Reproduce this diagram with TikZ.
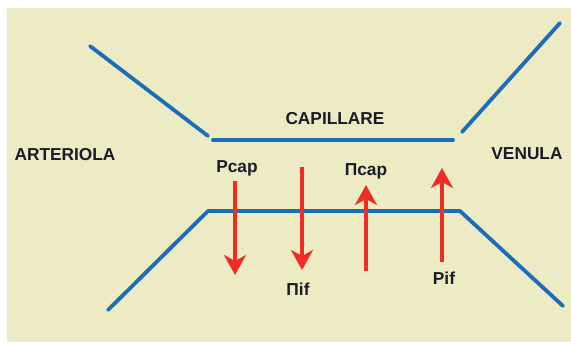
\documentclass[tikz,border=0pt]{standalone}
\usepackage{fontspec}
\setmainfont{Liberation Sans}
\usetikzlibrary{arrows.meta}
\definecolor{bgyellow}{HTML}{ECEBC3}
\definecolor{vesselblue}{HTML}{1B6DB9}
\definecolor{arrowred}{HTML}{EE2E24}
\definecolor{txtdark}{HTML}{1A1A28}
\begin{document}
\begin{tikzpicture}[x=1pt,y=-1pt,
  vessel/.style={draw=vesselblue,line width=3.8pt,line cap=round,line join=round},
  force/.style={draw=arrowred,line width=4pt,-{Stealth[length=20pt,width=22pt,inset=6pt]}},
  lbl/.style={text=txtdark,font=\fontsize{17.3}{20}\selectfont\bfseries,inner sep=0pt}]
\useasboundingbox (0,0) rectangle (571,343);
\fill[white] (0,0) rectangle (571,343);
\fill[bgyellow] (7,8) rectangle (571,342);
% vessel outline
\coordinate (ul) at (90,46);
\coordinate (ulc) at (208,136);
\coordinate (tl) at (213,140);
\coordinate (tr) at (453,140);
\coordinate (urc) at (462,132);
\coordinate (ur) at (560,23);
\coordinate (ll) at (108,310);
\coordinate (bl) at (208,211);
\coordinate (br) at (460,211);
\coordinate (lr) at (563,306);
\draw[vessel] (ul) -- (ulc);
\draw[vessel] (tl) -- (tr);
\draw[vessel] (urc) -- (ur);
\draw[vessel] (ll) -- (bl) -- (br) -- (lr);
% labels
\node[lbl] (cap) at (335,119) {CAPILLARE};
\node[lbl] (art) at (65,155) {ARTERIOLA};
\node[lbl] (ven) at (527,154) {VENULA};
\node[lbl] (pcap) at (237,168) {Pcap};
\node[lbl] (picap) at (366,171) {Πcap};
\node[lbl] (piif) at (298,289) {Πif};
\node[lbl] (pif) at (444,278) {Pif};
% force arrows
\coordinate (a1s) at (235,181);
\coordinate (a1e) at (235,275);
\coordinate (a2s) at (302,167);
\coordinate (a2e) at (302,270);
\coordinate (a3s) at (366,271);
\coordinate (a3e) at (366,185);
\coordinate (a4s) at (442,262);
\coordinate (a4e) at (442,168);
\draw[force] (a1s) -- (a1e);
\draw[force] (a2s) -- (a2e);
\draw[force] (a3s) -- (a3e);
\draw[force] (a4s) -- (a4e);
\end{tikzpicture}
\end{document}
